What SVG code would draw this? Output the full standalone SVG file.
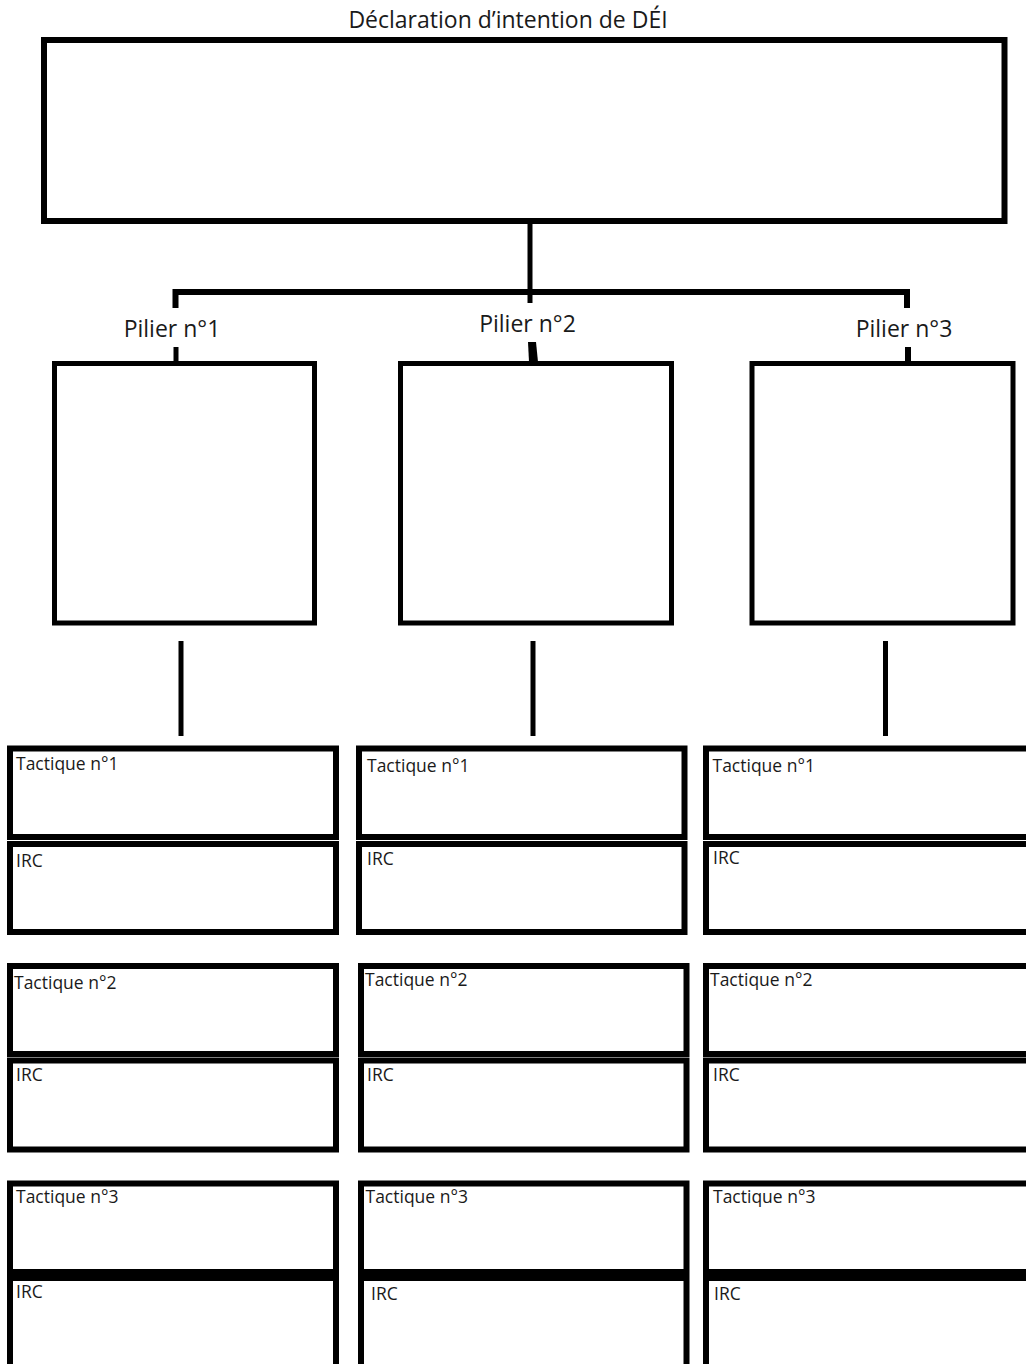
<svg xmlns="http://www.w3.org/2000/svg" width="1026" height="1364" viewBox="0 0 1026 1364">
<style>
.bx{fill:#fff;stroke:#000;stroke-width:6}
.pb{fill:#fff;stroke:#000;stroke-width:5}
.ln{stroke:#000;stroke-width:6;fill:none}
.ln5{stroke:#000;stroke-width:5;fill:none}
.t{font-family:"Open Sans","Noto Sans",sans-serif;fill:#1a1a1a}
.h{font-size:23px}
.s{font-size:17.5px}
</style>
<rect width="1026" height="1364" fill="#fff"/>
<g id="connectors">
<line class="ln5" x1="530" y1="221" x2="530" y2="303"/>
<polyline class="ln" points="175.5,308 175.5,292 907,292 907,308"/>
<line class="ln5" x1="176" y1="347" x2="176" y2="363"/>
<polygon points="528,342 536,342 538,362 529,362" fill="#000"/>
<line class="ln" x1="908" y1="347" x2="908" y2="363"/>
<line class="ln5" x1="181" y1="641" x2="181" y2="736"/>
<line class="ln5" x1="533" y1="641" x2="533" y2="736"/>
<line class="ln5" x1="885.5" y1="641" x2="885.5" y2="736"/>
</g>
<g id="declaration">
<text class="t h" x="508" y="28" text-anchor="middle">Déclaration d’intention de DÉI</text>
<rect class="bx" x="44" y="40" width="960.5" height="181"/>
</g>
<g id="pilier1">
<text class="t h" x="172" y="336.5" text-anchor="middle">Pilier n°1</text>
<rect class="pb" x="54.5" y="363.5" width="260" height="259.5"/>
</g>
<g id="pilier2">
<text class="t h" x="527.5" y="331.5" text-anchor="middle">Pilier n°2</text>
<rect class="pb" x="400.5" y="363.5" width="271" height="259.5"/>
</g>
<g id="pilier3">
<text class="t h" x="904" y="336.5" text-anchor="middle">Pilier n°3</text>
<rect class="pb" x="752" y="363.5" width="261" height="259.5"/>
</g>
<g id="col1-tactique1"><rect class="bx" x="10" y="748.5" width="326" height="88.5"/><text class="t s" x="16" y="770">Tactique n°1</text></g>
<g id="col1-irc1"><rect class="bx" x="10" y="844" width="326" height="88"/><text class="t s" x="16" y="867">IRC</text></g>
<g id="col1-tactique2"><rect class="bx" x="10" y="966" width="326" height="88"/><text class="t s" x="14" y="989">Tactique n°2</text></g>
<g id="col1-irc2"><rect class="bx" x="10" y="1060.5" width="326" height="89"/><text class="t s" x="16" y="1081">IRC</text></g>
<g id="col1-tactique3"><rect class="bx" x="10" y="1183.5" width="326" height="88.5"/><text class="t s" x="16" y="1203">Tactique n°3</text></g>
<g id="col1-irc3"><rect class="bx" x="10" y="1278" width="326" height="100"/><text class="t s" x="16" y="1298">IRC</text></g>
<g id="col2-tactique1"><rect class="bx" x="359" y="748.5" width="325.5" height="88.5"/><text class="t s" x="367" y="771.5">Tactique n°1</text></g>
<g id="col2-irc1"><rect class="bx" x="359" y="844" width="325.5" height="88"/><text class="t s" x="367" y="865">IRC</text></g>
<g id="col2-tactique2"><rect class="bx" x="361" y="966" width="325.5" height="88"/><text class="t s" x="365" y="986">Tactique n°2</text></g>
<g id="col2-irc2"><rect class="bx" x="361" y="1060.5" width="325.5" height="89"/><text class="t s" x="367" y="1081">IRC</text></g>
<g id="col2-tactique3"><rect class="bx" x="361" y="1183.5" width="325.5" height="88.5"/><text class="t s" x="365.5" y="1203">Tactique n°3</text></g>
<g id="col2-irc3"><rect class="bx" x="361" y="1278" width="325.5" height="100"/><text class="t s" x="371" y="1300">IRC</text></g>
<g id="col3-tactique1"><rect class="bx" x="706" y="748.5" width="340" height="88.5"/><text class="t s" x="712.5" y="771.5">Tactique n°1</text></g>
<g id="col3-irc1"><rect class="bx" x="706" y="844" width="340" height="88"/><text class="t s" x="713" y="863.5">IRC</text></g>
<g id="col3-tactique2"><rect class="bx" x="706" y="966" width="340" height="88"/><text class="t s" x="710" y="986">Tactique n°2</text></g>
<g id="col3-irc2"><rect class="bx" x="706" y="1060.5" width="340" height="89"/><text class="t s" x="713" y="1081">IRC</text></g>
<g id="col3-tactique3"><rect class="bx" x="706" y="1183.5" width="340" height="88.5"/><text class="t s" x="713" y="1203">Tactique n°3</text></g>
<g id="col3-irc3"><rect class="bx" x="706" y="1278" width="340" height="100"/><text class="t s" x="714" y="1300">IRC</text></g>
</svg>
